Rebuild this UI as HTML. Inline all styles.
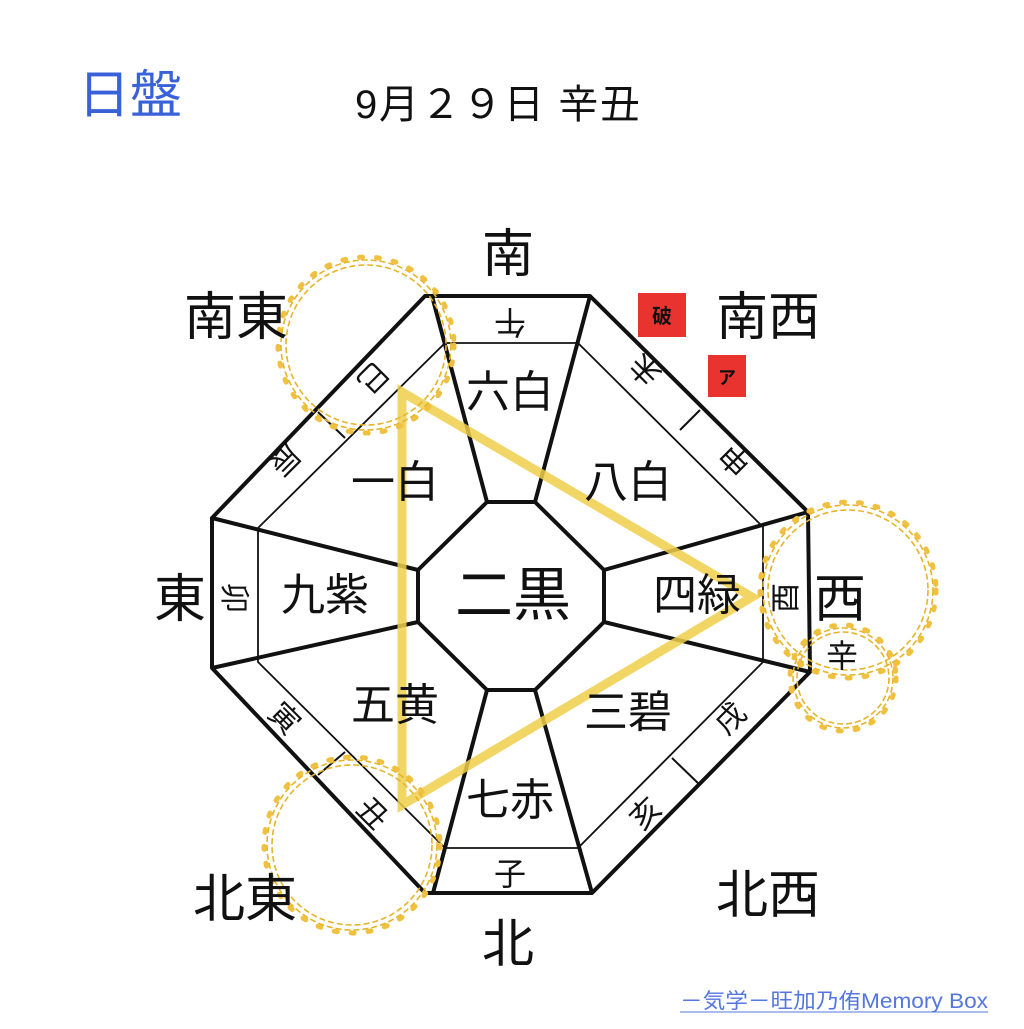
<!DOCTYPE html>
<html><head><meta charset="utf-8"><style>
html,body{margin:0;padding:0;background:#fff;}
svg text{font-family:"Liberation Sans","Noto Sans CJK JP",sans-serif;}
</style></head><body>
<svg width="1024" height="1024" viewBox="0 0 1024 1024" xmlns="http://www.w3.org/2000/svg">
<rect width="1024" height="1024" fill="#fff"/>
<text x="78" y="113" font-size="52" fill="#3a62d8" font-family="Liberation Serif, Noto Serif CJK SC, serif">日盤</text>
<text x="355" y="118" font-size="40" fill="#111" textLength="285" lengthAdjust="spacing">9月２９日 辛丑</text>

<g stroke="#111" fill="none" stroke-linejoin="round">
<polygon points="425,296 590,296 808,512 810,672 592,893 425,893 212,668 212,518" stroke-width="4"/>
<polygon points="445,343 578,343 763,527 763,662 578,848 445,848 258,662 258,528" stroke-width="1.8"/>
<polygon points="487,502 535,502 604,570 604,622 535,690 487,690 418,622 418,570" stroke-width="4"/>
<g stroke-width="4">
<line x1="487" y1="502" x2="432" y2="296"/>
<line x1="535" y1="502" x2="590" y2="296"/>
<line x1="604" y1="570" x2="808" y2="512"/>
<line x1="604" y1="622" x2="810" y2="672"/>
<line x1="535" y1="690" x2="592" y2="893"/>
<line x1="487" y1="690" x2="433" y2="893"/>
<line x1="418" y1="622" x2="212" y2="668"/>
<line x1="418" y1="570" x2="212" y2="518"/>
</g>
<g stroke-width="2">
<line x1="318" y1="412" x2="345" y2="438"/>
<line x1="680" y1="430" x2="700" y2="410"/>
<line x1="672" y1="758" x2="700" y2="785"/>
<line x1="318" y1="775" x2="345" y2="752"/>
</g>
</g>

<polygon points="402,392 752,597 402,805" fill="none" stroke="#f0cf4a" stroke-opacity="0.85" stroke-width="9"/>

<g fill="none" stroke="#e6b42a" stroke-width="1.6" stroke-dasharray="6 3">
<circle cx="366" cy="345" r="80"/><circle cx="366" cy="345" r="85"/>
<circle cx="848" cy="590" r="80"/><circle cx="848" cy="590" r="85"/>
<circle cx="843" cy="678" r="46"/><circle cx="843" cy="678" r="50"/>
<circle cx="352" cy="845" r="80"/><circle cx="352" cy="845" r="85"/>
</g>
<g fill="none" stroke="#f0c040" stroke-width="5" stroke-dasharray="3 14" stroke-linecap="round">
<circle cx="366" cy="345" r="88"/>
<circle cx="848" cy="590" r="88"/>
<circle cx="843" cy="678" r="53"/>
<circle cx="352" cy="845" r="88"/>
</g>

<g fill="#111" text-anchor="middle">
<text x="508" y="272" font-size="52">南</text>
<text x="236" y="335" font-size="52">南東</text>
<text x="768" y="335" font-size="52">南西</text>
<text x="180" y="617" font-size="52">東</text>
<text x="840" y="617" font-size="52">西</text>
<text x="245" y="917" font-size="52">北東</text>
<text x="768" y="913" font-size="52">北西</text>
<text x="508" y="962" font-size="52">北</text>
<text x="513" y="615" font-size="58">二黒</text>
<text x="510" y="407" font-size="44">六白</text>
<text x="395" y="497" font-size="44">一白</text>
<text x="628" y="497" font-size="44">八白</text>
<text x="325" y="610" font-size="44">九紫</text>
<text x="697" y="610" font-size="44">四緑</text>
<text x="395" y="720" font-size="44">五黄</text>
<text x="628" y="727" font-size="44">三碧</text>
<text x="510" y="815" font-size="44">七赤</text>
<text x="510" y="885" font-size="32">子</text>
<text x="842" y="667" font-size="32">辛</text>
<text x="510" y="333" font-size="32" transform="rotate(180 510 322)">午</text>
<text x="235" y="609" font-size="30" transform="rotate(90 235 598)">卯</text>
<text x="785" y="609" font-size="30" transform="rotate(-90 785 598)">酉</text>
<text x="373" y="389" font-size="30" transform="rotate(135 373 378)">巳</text>
<text x="285" y="471" font-size="30" transform="rotate(135 285 460)">辰</text>
<text x="285" y="729" font-size="30" transform="rotate(45 285 718)">寅</text>
<text x="373" y="824" font-size="30" transform="rotate(45 373 813)">丑</text>
<text x="645" y="381" font-size="30" transform="rotate(-135 645 370)">未</text>
<text x="735" y="471" font-size="30" transform="rotate(-135 735 460)">申</text>
<text x="730" y="729" font-size="30" transform="rotate(-45 730 718)">戌</text>
<text x="645" y="824" font-size="30" transform="rotate(-45 645 813)">亥</text>
</g>
<rect x="638" y="293" width="48" height="44" fill="#e8332f"/>
<text x="662" y="323" font-size="20" fill="#111" text-anchor="middle" font-weight="bold">破</text>
<rect x="708" y="355" width="38" height="42" fill="#e8332f"/>
<text x="727" y="384" font-size="18" fill="#111" text-anchor="middle" font-weight="bold">ア</text>

<text x="680" y="1008" font-size="21" fill="#5577dd" textLength="308" lengthAdjust="spacingAndGlyphs" font-family="Liberation Serif, Noto Serif CJK SC, serif">－気学－旺加乃侑Memory Box</text>
<line x1="680" y1="1012" x2="988" y2="1012" stroke="#5577dd" stroke-width="1"/>
</svg>
</body></html>
